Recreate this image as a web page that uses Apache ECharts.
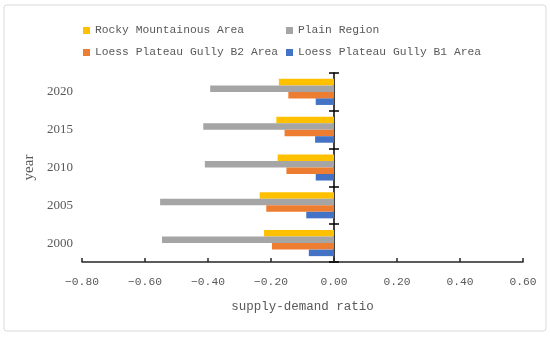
<!DOCTYPE html>
<html>
<head>
<meta charset="utf-8">
<script src="https://cdn.jsdelivr.net/npm/echarts@6/dist/echarts.min.js"></script>
<style>html,body{margin:0;padding:0;background:#fff}#c{width:550px;height:338px}</style>
</head>
<body>
<div id="c"></div>
<script>
const years = ['2000', '2005', '2010', '2015', '2020'];
const rocky = [-0.222, -0.236, -0.179, -0.183, -0.175];
const plain = [-0.546, -0.552, -0.410, -0.415, -0.393];
const loessB2 = [-0.197, -0.215, -0.151, -0.157, -0.145];
const loessB1 = [-0.080, -0.088, -0.058, -0.060, -0.058];
const xTicks = [-0.8, 0.6, 0.2];

const names = ['Rocky Mountainous Area', 'Plain Region', 'Loess Plateau Gully B2 Area', 'Loess Plateau Gully B1 Area'];
const colors = ['#FFC000', '#A5A5A5', '#ED7D31', '#4472C4'];
const values = [rocky, plain, loessB2, loessB1];

const mono = 'Liberation Mono';
const chart = echarts.init(document.getElementById('c'), null, {renderer: 'canvas'});
const legendBase = {
  orient: 'vertical', itemWidth: 7, itemHeight: 7, itemGap: 11,
  icon: 'rect', textStyle: {fontFamily: mono, fontSize: 11.3, color: '#595959'}
};
chart.setOption({
  animation: false,
  graphic: [{type: 'rect', shape: {x: 4, y: 5, width: 542, height: 326, r: 3},
    style: {fill: 'none', stroke: '#d9d9d9', lineWidth: 1}, silent: true}],
  legend: [
    Object.assign({left: 78, top: 20, data: [names[0], names[2]]}, legendBase),
    Object.assign({left: 281, top: 20, data: [names[1], names[3]]}, legendBase)
  ],
  grid: {left: 82, right: 27, top: 73, bottom: 76},
  xAxis: {
    type: 'value', min: xTicks[0], max: xTicks[1], interval: xTicks[2],
    name: 'supply-demand ratio', nameLocation: 'middle', nameGap: 38,
    nameTextStyle: {fontFamily: mono, fontSize: 12.5, color: '#595959'},
    axisLine: {show: true, onZero: false, lineStyle: {color: '#262626', width: 1.5}},
    axisTick: {show: true, inside: true, length: 4, lineStyle: {color: '#262626', width: 1.5}},
    axisLabel: {fontFamily: mono, fontSize: 11.3, color: '#595959', margin: 15,
      formatter: v => (v < 0 ? '\u2212' : '') + Math.abs(v).toFixed(2)},
    splitLine: {show: false}
  },
  yAxis: [
    {
      type: 'category', data: years,
      name: 'year', nameLocation: 'middle', nameGap: 43, nameRotate: 90,
      nameTextStyle: {fontFamily: 'Liberation Serif', fontSize: 15, color: '#595959'},
      axisLine: {show: false, onZero: false}, axisTick: {show: false},
      axisLabel: {fontFamily: 'Liberation Serif', fontSize: 13, color: '#595959', margin: 9}
    },
    {
      type: 'category', data: years,
      axisLine: {show: true, onZero: true, onZeroAxisIndex: 0, lineStyle: {color: '#000', width: 1.5}},
      axisTick: {show: true, inside: false, length: 5, lineStyle: {color: '#000', width: 1.5}},
      axisLabel: {show: false}
    },
    {
      type: 'category', data: years,
      axisLine: {show: false, onZero: true, onZeroAxisIndex: 0},
      axisTick: {show: true, inside: true, length: 5, lineStyle: {color: '#000', width: 1.5}},
      axisLabel: {show: false}
    }
  ],
  series: names.map((n, i) => ({
    type: 'bar', name: n, data: values[i], yAxisIndex: 0,
    itemStyle: {color: colors[i]},
    barGap: '0%', barCategoryGap: '31%'
  }))
});
</script>
</body>
</html>
